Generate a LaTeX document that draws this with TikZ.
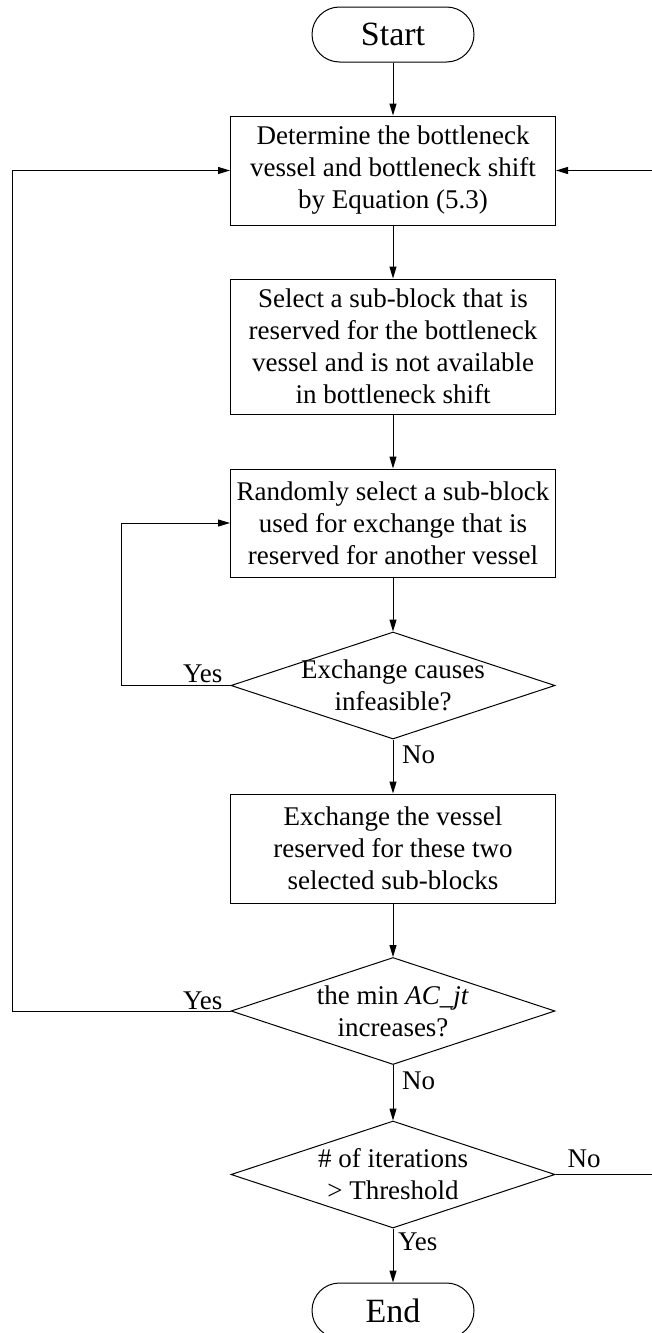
\documentclass[tikz,border=0pt]{standalone}
\usepackage{fontspec}
\setmainfont{Liberation Serif}
\usetikzlibrary{arrows.meta,shapes.geometric,shapes.misc}
\begin{document}
\begin{tikzpicture}[x=1pt,y=-1pt,
  every node/.style={font=\fontsize{27pt}{32pt}\selectfont},
  arr/.style={line width=1pt,-{Triangle[length=12pt,width=7pt]}},
  terminal/.style={draw,line width=1pt,rounded rectangle,minimum width=162pt,
    minimum height=55pt,inner sep=0pt,font=\fontsize{34pt}{40pt}\selectfont},
  process/.style={draw,line width=1pt,rectangle,minimum width=325pt,inner sep=0pt,align=center},
  decision/.style={draw,line width=1pt,diamond,minimum width=324pt,minimum height=107pt,inner sep=0pt},
  dtext/.style={inner sep=0pt,align=center},
  lbl/.style={inner sep=0pt}]
  \useasboundingbox (0,0) rectangle (652,1333);

  % main column
  \node[terminal] (start) at (393,34.5) {Start};
  \node[process,minimum height=109pt] (b1) at (393,170.5)
    {Determine the bottleneck\\vessel and bottleneck shift\\by Equation (5.3)};
  \node[process,minimum height=135pt] (b2) at (393,346.5)
    {Select a sub-block that is\\reserved for the bottleneck\\vessel and is not available\\in bottleneck shift};
  \node[process,minimum height=108pt] (b3) at (393,523)
    {Randomly select a sub-block\\used for exchange that is\\reserved for another vessel};
  \node[decision,label={[dtext]center:Exchange causes\\infeasible?}] (d1) at (393,685.5) {};
  \node[process,minimum height=109pt] (b4) at (393,848.5)
    {Exchange the vessel\\reserved for these two\\selected sub-blocks};
  \node[decision,label={[dtext]center:the min \textit{AC\_jt}\\increases?}] (d2) at (393,1011) {};
  \node[decision,label={[dtext]center:\# of iterations\\> Threshold}] (d3) at (393,1174.5) {};
  \node[terminal] (end) at (393,1310.5) {End};

  % straight flow
  \draw[arr] (start) -- (b1);
  \draw[arr] (b1) -- (b2);
  \draw[arr] (b2) -- (b3);
  \draw[arr] (b3) -- (d1);
  \draw[arr] (d1) -- (b4);
  \draw[arr] (b4) -- (d2);
  \draw[arr] (d2) -- (d3);
  \draw[arr] (d3) -- (end);

  % feedback loops
  \draw[arr] (d1.west) -| ([xshift=-109pt]b3.west) -- (b3.west);
  \draw[arr] (d2.west) -| ([xshift=-218pt]b1.west) -- (b1.west);
  \draw[arr] (d3.east) -| ([xshift=96pt]b1.east) -- (b1.east);

  % branch labels
  \node[lbl,anchor=base east] (y1) at ([xshift=-8pt,yshift=3pt]d1.west) {Yes};
  \node[lbl,anchor=base west] (n1) at ([xshift=9pt,yshift=-24pt]d1.south) {No};
  \node[lbl,anchor=base east] (y2) at ([xshift=-8pt,yshift=2pt]d2.west) {Yes};
  \node[lbl,anchor=base west] (n2) at ([xshift=9pt,yshift=-24pt]d2.south) {No};
  \node[lbl,anchor=base west] (n3) at ([xshift=12pt,yshift=7pt]d3.east) {No};
  \node[lbl,anchor=base west] (y3) at ([xshift=5pt,yshift=-22pt]d3.south) {Yes};
\end{tikzpicture}
\end{document}
